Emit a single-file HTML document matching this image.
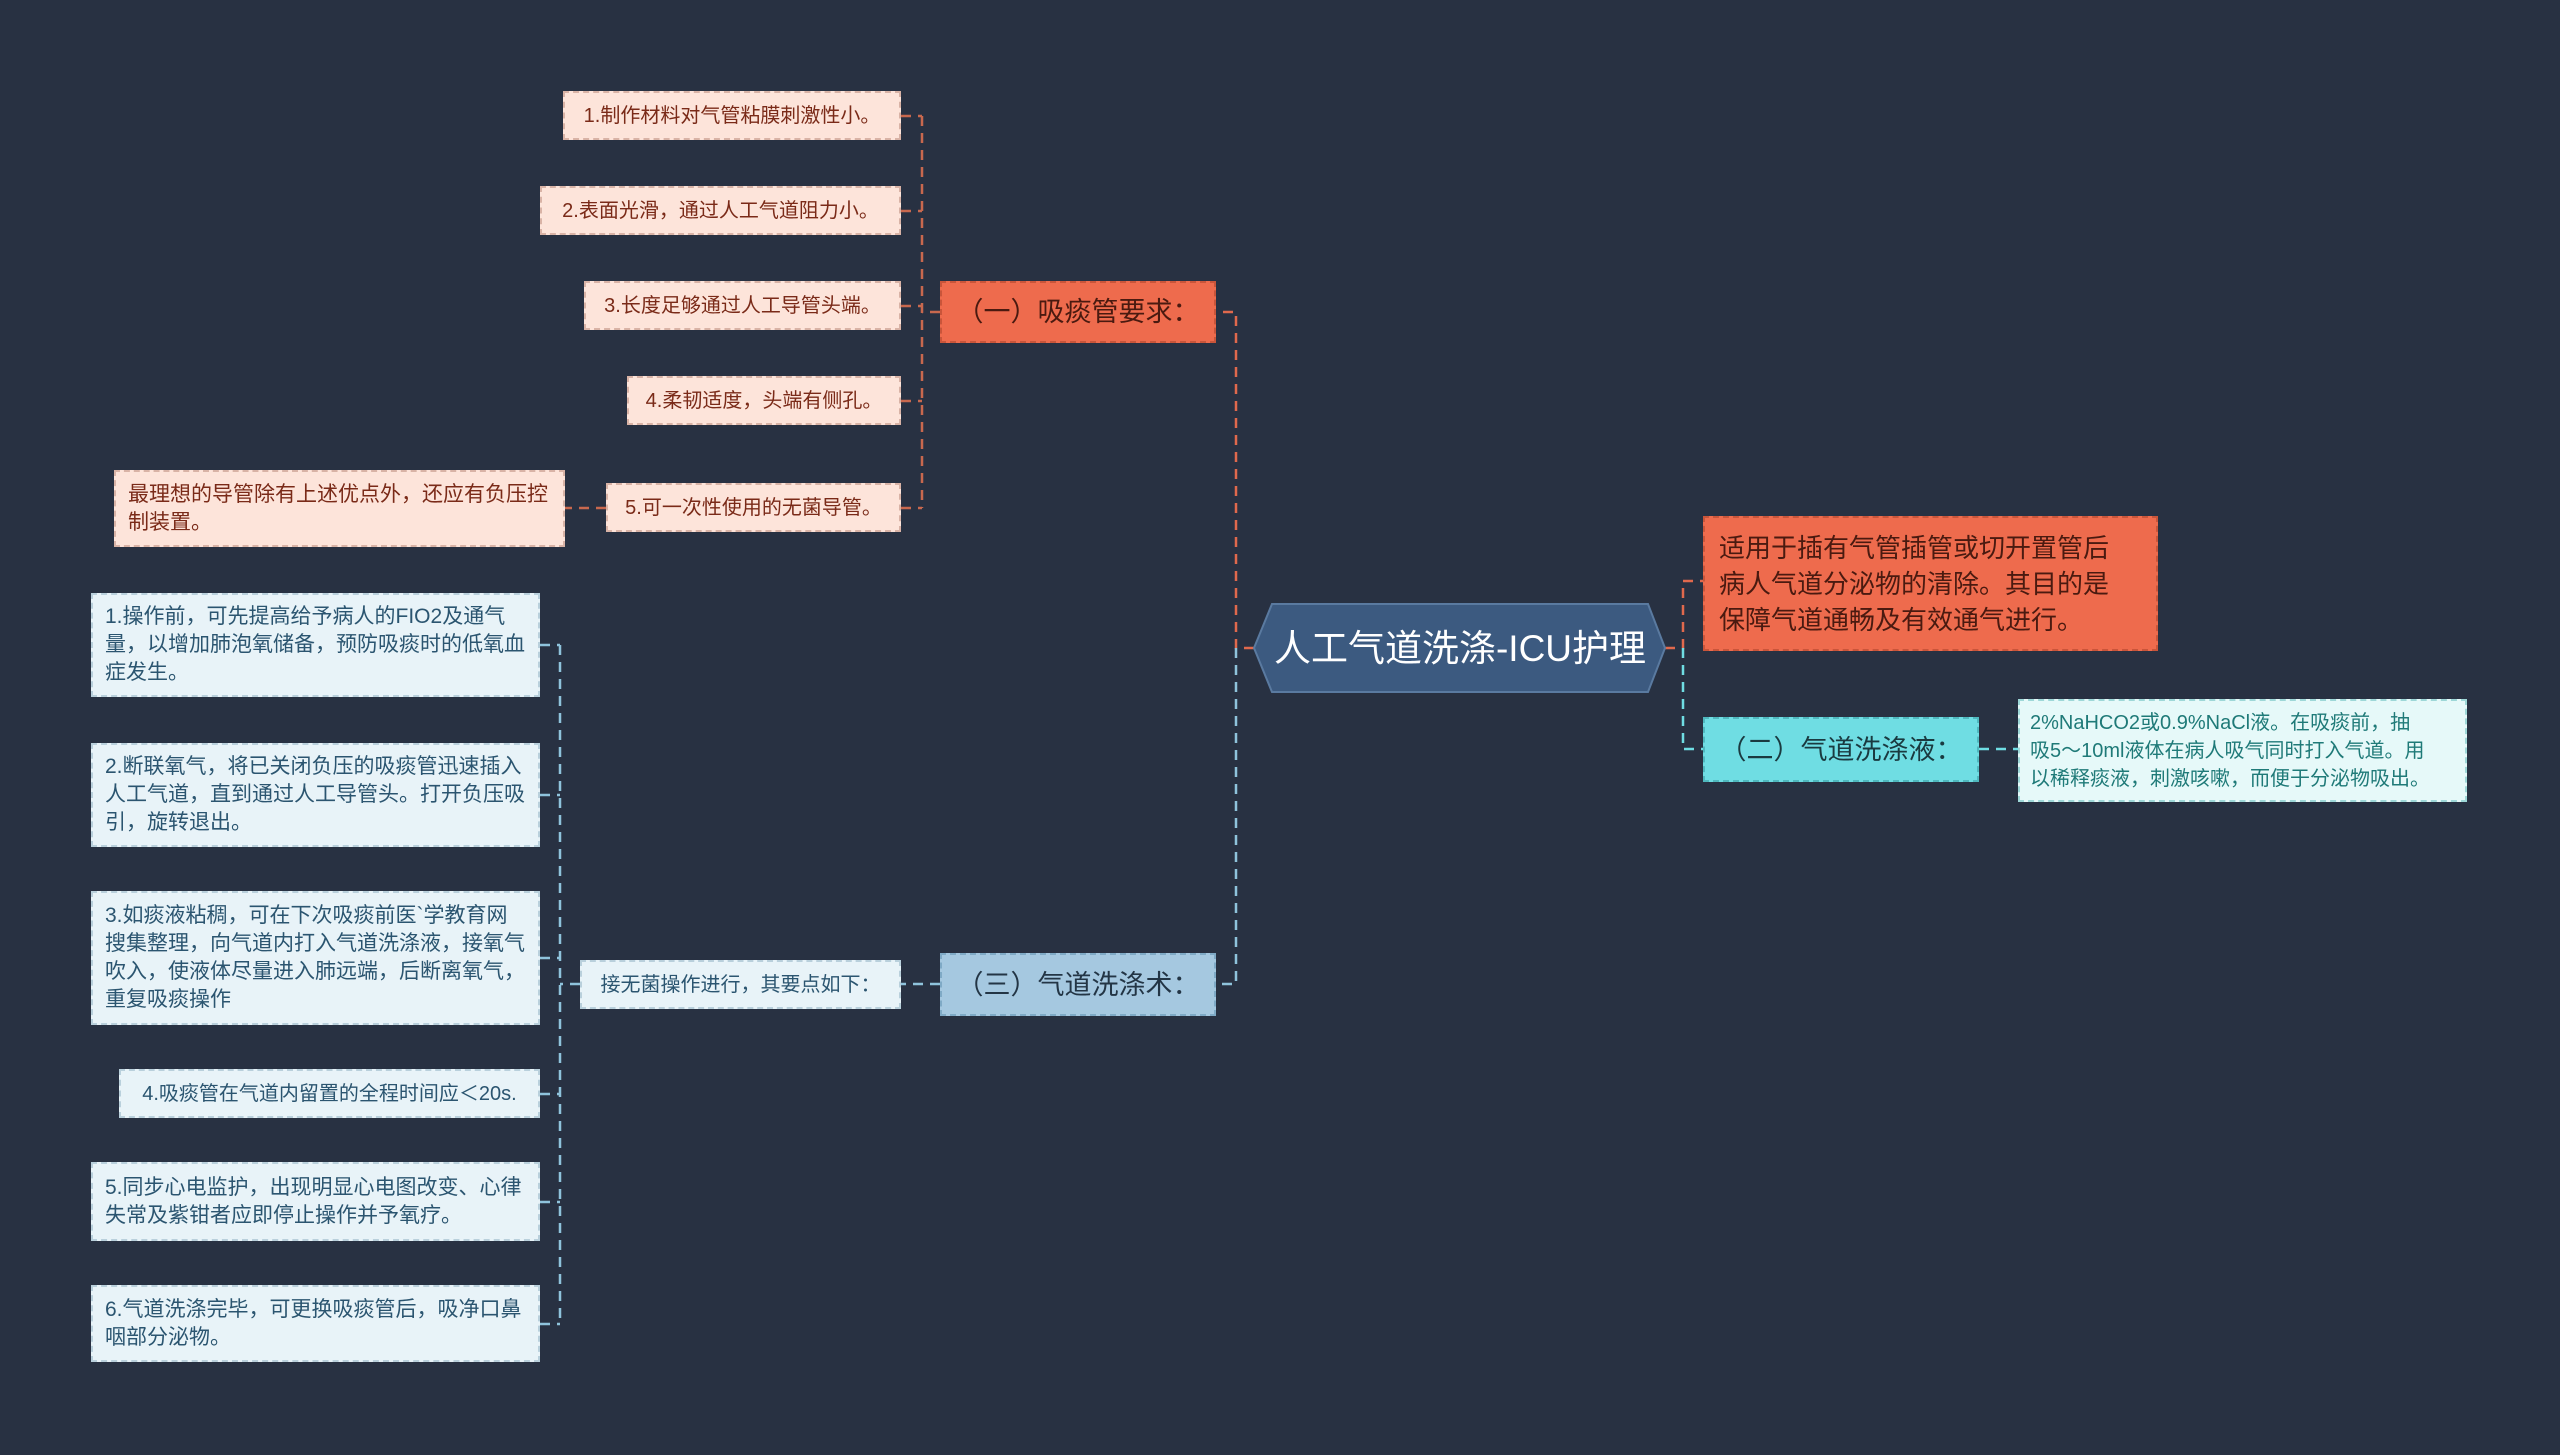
<!DOCTYPE html>
<html><head><meta charset="utf-8"><style>
html,body{margin:0;padding:0;}
body{width:2560px;height:1455px;background:#283142;position:relative;overflow:hidden;font-family:"Liberation Sans","Noto Sans CJK SC",sans-serif;}
.n{position:absolute;box-sizing:border-box;display:flex;align-items:center;font-size:21px;line-height:28px;padding:0 12px;}
.s{white-space:nowrap;padding:0 6px;font-size:20px;overflow:hidden;}
.p{background:#fde4da;color:#7a2a18;border:2px dashed #d9b3a6;justify-content:center;}
.b{background:#e8f3f8;color:#2b5570;border:2px dashed #b9d0dc;}
svg{position:absolute;left:0;top:0;}
</style></head><body>
<svg width="2560" height="1455">
<g fill="none" stroke-width="2.5" stroke-dasharray="10,7">
<path d="M1254 648 H1236 V312 H1216" stroke="#e0694d"/>
<path d="M1236 648 V984 H1216" stroke="#8fc3dc"/>
<path d="M940 312 H922 M922 116 V508 M901 116 H922 M901 211 H922 M901 306 H922 M901 401 H922 M901 508 H922" stroke="#c8684e"/>
<path d="M606 508 H565" stroke="#c8684e"/>
<path d="M940 984 H901" stroke="#8fc3dc"/>
<path d="M580 984 H560 M560 645 V1324 M540 645 H560 M540 795 H560 M540 958 H560 M540 1094 H560 M540 1202 H560 M540 1324 H560" stroke="#8fc3dc"/>
<path d="M1665 648 H1683 V581 H1703" stroke="#e0694d"/>
<path d="M1683 648 V749 H1703" stroke="#6fdde3"/>
<path d="M1979 749 H2018" stroke="#6fdde3"/>
</g>
<polygon points="1272,604 1648,604 1665,648 1648,692 1272,692 1254,648" fill="#3c5a80" stroke="#5a7aa0" stroke-width="2"/>
<text x="1460" y="661" font-size="37" fill="#fff" text-anchor="middle" font-family="Liberation Sans, Noto Sans CJK SC, sans-serif">人工气道洗涤-ICU护理</text>
</svg>
<div class="n" style="left:1703px;top:516px;width:455px;height:135px;background:#ee6b4d;color:#4a1a10;border:2px dashed #c9553a;font-size:26px;line-height:36px;padding:0 14px;">适用于插有气管插管或切开置管后<br>病人气道分泌物的清除。其目的是<br>保障气道通畅及有效通气进行。</div>
<div class="n" style="left:1703px;top:717px;width:276px;height:65px;background:#6fdde3;color:#1a3a40;border:2px dashed #4fb8be;font-size:27px;justify-content:center;">（二）气道洗涤液：</div>
<div class="n" style="left:2018px;top:699px;width:449px;height:103px;background:#e6f9f9;color:#1f7a78;border:2px dashed #9ed8d8;font-size:20px;line-height:28px;padding:0 10px;white-space:nowrap;">2%NaHCO2或0.9%NaCl液。在吸痰前，抽<br>吸5～10ml液体在病人吸气同时打入气道。用<br>以稀释痰液，刺激咳嗽，而便于分泌物吸出。</div>
<div class="n" style="left:940px;top:281px;width:276px;height:62px;background:#ee6b4d;color:#4a1a10;border:2px dashed #c9553a;font-size:27px;justify-content:center;">（一）吸痰管要求：</div>
<div class="n p s" style="left:563px;top:91px;width:338px;height:49px;">1.制作材料对气管粘膜刺激性小。</div>
<div class="n p s" style="left:540px;top:186px;width:361px;height:49px;">2.表面光滑，通过人工气道阻力小。</div>
<div class="n p s" style="left:584px;top:281px;width:317px;height:49px;">3.长度足够通过人工导管头端。</div>
<div class="n p s" style="left:627px;top:376px;width:274px;height:49px;">4.柔韧适度，头端有侧孔。</div>
<div class="n p s" style="left:606px;top:483px;width:295px;height:49px;">5.可一次性使用的无菌导管。</div>
<div class="n p" style="left:114px;top:470px;width:451px;height:77px;justify-content:flex-start;">最理想的导管除有上述优点外，还应有负压控制装置。</div>
<div class="n" style="left:940px;top:953px;width:276px;height:63px;background:#a5c8e0;color:#233545;border:2px dashed #7faac6;font-size:27px;justify-content:center;">（三）气道洗涤术：</div>
<div class="n b s" style="left:580px;top:960px;width:321px;height:49px;justify-content:center;">接无菌操作进行，其要点如下：</div>
<div class="n b" style="left:91px;top:593px;width:449px;height:104px;">1.操作前，可先提高给予病人的FIO2及通气量，以增加肺泡氧储备，预防吸痰时的低氧血症发生。</div>
<div class="n b" style="left:91px;top:743px;width:449px;height:104px;">2.断联氧气，将已关闭负压的吸痰管迅速插入人工气道，直到通过人工导管头。打开负压吸引，旋转退出。</div>
<div class="n b" style="left:91px;top:891px;width:449px;height:134px;">3.如痰液粘稠，可在下次吸痰前医`学教育网搜集整理，向气道内打入气道洗涤液，接氧气吹入，使液体尽量进入肺远端，后断离氧气，重复吸痰操作</div>
<div class="n b s" style="left:119px;top:1069px;width:421px;height:49px;justify-content:center;">4.吸痰管在气道内留置的全程时间应＜20s.</div>
<div class="n b" style="left:91px;top:1162px;width:449px;height:79px;">5.同步心电监护，出现明显心电图改变、心律失常及紫钳者应即停止操作并予氧疗。</div>
<div class="n b" style="left:91px;top:1285px;width:449px;height:77px;">6.气道洗涤完毕，可更换吸痰管后，吸净口鼻咽部分泌物。</div>
</body></html>
